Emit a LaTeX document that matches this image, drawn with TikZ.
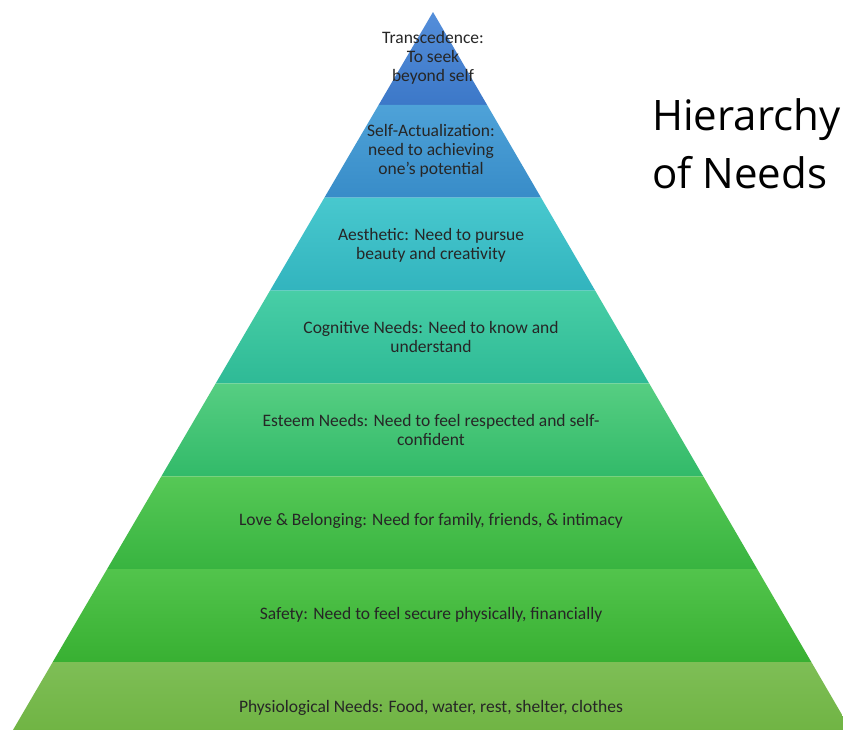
\documentclass[tikz,border=0pt]{standalone}
\usepackage{fontspec}
\setmainfont{Carlito}
\newfontfamily\titlefont{Open Sans}
\definecolor{t1}{RGB}{84,142,218}\definecolor{b1}{RGB}{60,120,200}
\definecolor{t2}{RGB}{78,162,216}\definecolor{b2}{RGB}{56,140,200}
\definecolor{t3}{RGB}{72,200,206}\definecolor{b3}{RGB}{50,180,190}
\definecolor{t4}{RGB}{72,206,166}\definecolor{b4}{RGB}{46,186,150}
\definecolor{t5}{RGB}{86,206,130}\definecolor{b5}{RGB}{50,186,105}
\definecolor{t6}{RGB}{86,200,86}\definecolor{b6}{RGB}{56,180,64}
\definecolor{t7}{RGB}{82,196,76}\definecolor{b7}{RGB}{56,176,50}
\definecolor{t8}{RGB}{126,190,86}\definecolor{b8}{RGB}{106,176,60}
\begin{document}
\begin{tikzpicture}[x=1pt,y=-1pt,
  lbl/.style={font=\fontsize{17.5}{18.8}\selectfont, align=center, text=black!85, inner sep=0pt},
  ttl/.style={font=\titlefont\fontsize{42}{58}\selectfont, anchor=base west, inner sep=0pt, text=black}]
\useasboundingbox (0,0) rectangle (843,729);
\fill[white] (0,0) rectangle (843,729);
\clip (0,0) rectangle (843,729);
\foreach \i in {1,...,8}{
  \pgfmathsetmacro{\ya}{12+92.857*(\i-1)}
  \pgfmathsetmacro{\yb}{\i==8 ? 760 : 12+92.857*\i}
  \pgfmathsetmacro{\xla}{433-0.585*(\ya-12)}
  \pgfmathsetmacro{\xra}{433+0.582*(\ya-12)}
  \pgfmathsetmacro{\xlb}{433-0.585*(\yb-12)}
  \pgfmathsetmacro{\xrb}{433+0.582*(\yb-12)}
  \shade[top color=t\i, bottom color=b\i] (\xla,\ya) -- (\xra,\ya) -- (\xrb,\yb) -- (\xlb,\yb) -- cycle;
}
\node[lbl] (trans) at (433,58) {Transcedence:\\To seek\\beyond self};
\node[lbl] (self) at (431,151) {Self-Actualization:\\need to achieving\\one's potential};
\node[lbl] (aest) at (431,245) {Aesthetic: Need to pursue\\beauty and creativity};
\node[lbl] (cogn) at (431,337) {Cognitive Needs: Need to know and\\understand};
\node[lbl] (este) at (431,430) {Esteem Needs: Need to feel respected and self-\\confident};
\node[lbl] (love) at (431,521) {Love \& Belonging: Need for family, friends, \& intimacy};
\node[lbl] (safe) at (431,615) {Safety: Need to feel secure physically, financially};
\node[lbl] (phys) at (431,708) {Physiological Needs: Food, water, rest, shelter, clothes};
\node[ttl] (title1) at (652,130) {Hierarchy};
\node[ttl] (title2) at (652,188) {of Needs};
\end{tikzpicture}
\end{document}
